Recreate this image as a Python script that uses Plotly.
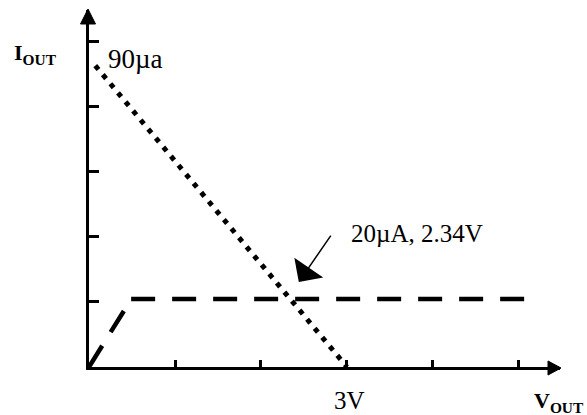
import plotly.graph_objects as go

# ---- data ----
v_load = [0.073, 3.0]          # dotted load line, volts
i_load = [92.6, 0.0]           # µA
v_rise = [0.0, 0.44]           # dashed linear region
i_rise = [0.0, 18.7]
v_sat = [0.49, 5.06]           # dashed saturation region
i_sat = [20.9, 20.9]
x_ticks = [1, 2, 3, 4, 5]
y_ticks = [20, 40, 60, 80, 100]
x_max = 5.477
y_max = 109.7
point_v = 2.44                 # arrow tip
point_i = 26.1
label_point = "20µA, 2.34V"
label_start = "90µa"
label_3v = "3V"

# ---- layout geometry ----
W_FIG, H_FIG = 587, 415
L, R, T, B = 89, 27, 10, 48
PW, PH = W_FIG - L - R, H_FIG - T - B


def px(xp):
    return (xp - L) / PW


def py(yp):
    return (H_FIG - B - yp) / PH


SERIF = "Liberation Serif, Times New Roman, serif"

fig = go.Figure()
fig.add_trace(go.Scatter(x=v_load, y=i_load, mode="lines",
                         line=dict(color="black", width=5, dash="5px,6.8px"),
                         hoverinfo="skip"))
fig.add_trace(go.Scatter(x=v_rise, y=i_rise, mode="lines",
                         line=dict(color="black", width=4.5, dash="25px,16px"),
                         hoverinfo="skip"))
fig.add_trace(go.Scatter(x=v_sat, y=i_sat, mode="lines",
                         line=dict(color="black", width=4.5, dash="24px,17px"),
                         hoverinfo="skip"))

axis_common = dict(showgrid=False, zeroline=False, showline=True, linecolor="black",
                   linewidth=3, ticks="inside", tickcolor="black", tickwidth=3,
                   showticklabels=False, fixedrange=True)

fig.update_layout(
    width=W_FIG, height=H_FIG,
    margin=dict(l=L, r=R, t=T, b=B),
    paper_bgcolor="white", plot_bgcolor="white",
    showlegend=False,
    xaxis=dict(range=[0, x_max], tickvals=x_ticks, ticklen=7, **axis_common),
    yaxis=dict(range=[0, y_max], tickvals=y_ticks, ticklen=10, **axis_common),
    font=dict(family=SERIF, color="black"),
)

# axis arrowheads (paper coordinates from pixel positions)
ax_x = 88   # y-axis line centre
ax_y = 368  # x-axis line centre
fig.add_shape(type="path", xref="paper", yref="paper",
              path=f"M{px(ax_x-7.5)},{py(24)} L{px(ax_x+7.5)},{py(24)} L{px(ax_x)},{py(9)} Z",
              fillcolor="black", line=dict(color="black", width=1), layer="above")
fig.add_shape(type="path", xref="paper", yref="paper",
              path=f"M{px(548)},{py(ax_y-7)} L{px(548)},{py(ax_y+7)} L{px(561)},{py(ax_y)} Z",
              fillcolor="black", line=dict(color="black", width=1), layer="above")

# arrow to the intersection point
fig.add_annotation(x=point_v, y=point_i, xref="x", yref="y", text="",
                   showarrow=True, arrowhead=1, arrowwidth=1.5, arrowsize=3.9,
                   arrowcolor="black", ax=33, ay=-48, axref="pixel", ayref="pixel")

# text labels
fig.add_annotation(x=px(349), y=py(233), xref="paper", yref="paper",
                   text=label_point, showarrow=False, xanchor="left", yanchor="middle",
                   font=dict(size=25, family=SERIF))
fig.add_annotation(x=px(106), y=py(59), xref="paper", yref="paper",
                   text=label_start, showarrow=False, xanchor="left", yanchor="middle",
                   font=dict(size=27, family=SERIF))
fig.add_annotation(x=px(349), y=py(400), xref="paper", yref="paper",
                   text=label_3v, showarrow=False, xanchor="center", yanchor="middle",
                   font=dict(size=25, family=SERIF))
fig.add_annotation(x=px(12), y=py(54), xref="paper", yref="paper",
                   text="<b>I<sub>OUT</sub></b>", showarrow=False,
                   xanchor="left", yanchor="middle",
                   font=dict(size=22, family=SERIF))
fig.add_annotation(x=px(532), y=py(402), xref="paper", yref="paper",
                   text="<b>V<sub>OUT</sub></b>", showarrow=False,
                   xanchor="left", yanchor="middle",
                   font=dict(size=22, family=SERIF))

fig.write_html("out.html", config={"displayModeBar": False, "staticPlot": True},
               post_script="document.body.style.margin='0';")
